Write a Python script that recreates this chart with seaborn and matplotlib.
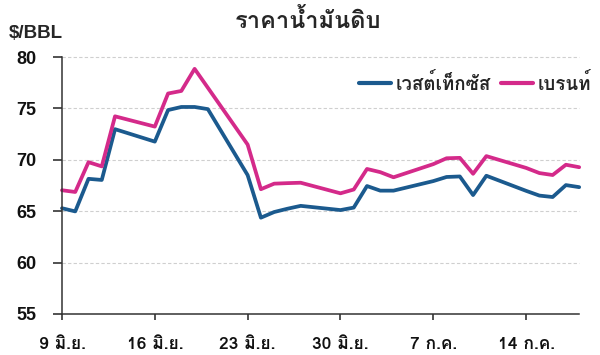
import numpy as np
import pandas as pd
import matplotlib
matplotlib.use("Agg")
import matplotlib.pyplot as plt
import seaborn as sns
from matplotlib import font_manager as fm

# ---- data ----
dates = ["2025-06-09", "2025-06-10", "2025-06-11", "2025-06-12", "2025-06-13",
         "2025-06-16", "2025-06-17", "2025-06-18", "2025-06-19", "2025-06-20",
         "2025-06-23", "2025-06-24", "2025-06-25", "2025-06-26", "2025-06-27",
         "2025-06-30", "2025-07-01", "2025-07-02", "2025-07-03", "2025-07-04",
         "2025-07-07", "2025-07-08", "2025-07-09", "2025-07-10", "2025-07-11",
         "2025-07-14", "2025-07-15", "2025-07-16", "2025-07-17", "2025-07-18"]
wti = [65.29, 64.98, 68.15, 68.04, 72.98,
       71.77, 74.84, 75.14, 75.14, 74.93,
       68.51, 64.37, 64.92, 65.24, 65.52,
       65.11, 65.35, 67.45, 67.00, 67.00,
       67.93, 68.33, 68.38, 66.57, 68.45,
       66.98, 66.52, 66.38, 67.54, 67.34]
brent = [67.04, 66.87, 69.77, 69.36, 74.23,
         73.23, 76.45, 76.70, 78.85, 77.01,
         71.48, 67.14, 67.68, 67.73, 67.77,
         66.74, 67.11, 69.11, 68.80, 68.30,
         69.58, 70.15, 70.19, 68.64, 70.36,
         69.21, 68.71, 68.52, 69.52, 69.28]
series_names = ["เวสต์เท็กซัส", "เบรนท์"]
tick_dates = ["2025-06-09", "2025-06-16", "2025-06-23", "2025-06-30", "2025-07-07", "2025-07-14"]
tick_labels = ["9 มิ.ย.", "16 มิ.ย.", "23 มิ.ย.", "30 มิ.ย.", "7 ก.ค.", "14 ก.ค."]
y_ticks = [55, 60, 65, 70, 75, 80]
title = "ราคาน้ำมันดิบ"
unit = "$/BBL"

# ---- find a font with Thai glyphs ----
thai_font = None
try:
    from fontTools.ttLib import TTFont
    cands = []
    for f in fm.fontManager.ttflist:
        try:
            tt = TTFont(f.fname, fontNumber=0, lazy=True)
            cmap = tt.getBestCmap()
            if cmap and 0x0E23 in cmap and 0x0E19 in cmap:
                cands.append(f)
        except Exception:
            pass
    if cands:
        bold = [c for c in cands if c.weight in ("bold", 700, "heavy", 800, 900)]
        thai_font = (bold or cands)[0].name
except Exception:
    pass

base = ["Liberation Sans", "DejaVu Sans"]
thai_fam = ([thai_font] if thai_font else []) + ["DejaVu Sans"]

sns.set_theme(style="ticks")
plt.rcParams["font.family"] = base

df = pd.DataFrame({
    "date": pd.to_datetime(dates * 2),
    "price": wti + brent,
    "series": [series_names[0]] * len(dates) + [series_names[1]] * len(dates),
})

fig = plt.figure(figsize=(6, 3.55), dpi=100)
ax = fig.add_axes([0.1033, 0.1155, 0.862, 0.7239])

palette = {series_names[0]: "#1B5A8E", series_names[1]: "#D42A8A"}
sns.lineplot(data=df, x="date", y="price", hue="series", palette=palette,
             linewidth=2.7, ax=ax, legend=True)

ax.set_ylim(55, 80)
ax.set_xlim(pd.Timestamp("2025-06-09"), pd.Timestamp("2025-07-18"))
ax.set_yticks(y_ticks)
ax.set_yticklabels([str(v) for v in y_ticks], fontsize=13, fontweight="bold",
                   family=base)
ax.set_xticks(pd.to_datetime(tick_dates))
ax.set_xticklabels(tick_labels, fontsize=12.5, fontweight="bold", family=thai_fam)
ax.set_xlabel("")
ax.set_ylabel("")

for v in y_ticks[1:]:
    ax.axhline(v, color="#CFCFCF", linewidth=0.8, linestyle=(0, (3, 2)), zorder=0)

for s in ["top", "right"]:
    ax.spines[s].set_visible(False)
for s in ["left", "bottom"]:
    ax.spines[s].set_color("#333333")
    ax.spines[s].set_linewidth(1.1)

ax.tick_params(axis="y", length=6.5, width=1.2, color="#333333", pad=12,
               labelcolor="#111111")
ax.tick_params(axis="x", length=4.5, width=1.2, color="#333333", pad=12,
               labelcolor="#111111")

for line in ax.get_lines():
    line.set_clip_on(False)

leg = ax.legend(loc="center right", bbox_to_anchor=(591 / 600, 1 - 83 / 355),
                bbox_transform=fig.transFigure, ncol=2, frameon=False,
                prop={"family": thai_fam, "weight": "bold", "size": 13.5},
                handlelength=1.7, handletextpad=0.25, columnspacing=0.55,
                borderaxespad=0, borderpad=0)
for h in leg.legend_handles:
    h.set_linewidth(3.0)

fig.text(0.513, 0.94, title, ha="center", va="center", fontsize=17,
         fontweight="bold", family=thai_fam)
fig.text(0.015, 0.905, unit, ha="left", va="center", fontsize=13.5,
         fontweight="bold", family=base)

fig.savefig("out.png", dpi=100)
